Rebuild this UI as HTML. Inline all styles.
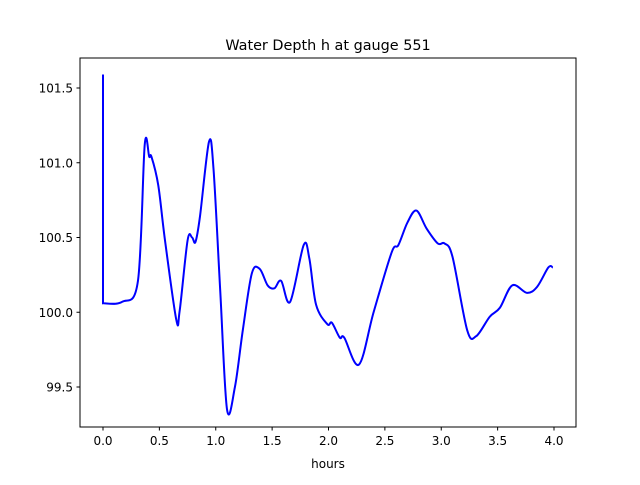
<!DOCTYPE html>
<html><head><meta charset="utf-8"><style>
body{margin:0;background:#fff;}
svg text{font-family:"DejaVu Sans","Liberation Sans",sans-serif;}
</style></head><body>
<svg id="chart" width="640" height="480" xmlns="http://www.w3.org/2000/svg">
<rect width="640" height="480" fill="#fff"/>
<text x="328" y="50" text-anchor="middle" font-size="14.4">Water Depth h at gauge 551</text>
<g id="xt"></g><g id="yt"></g>
<path id="line" fill="none" stroke="#0000ff" stroke-width="2"/>
<rect x="80" y="58" width="496" height="369" fill="none" stroke="#000" stroke-width="1"/>
<text x="328" y="468" text-anchor="middle" font-size="12">hours</text>
</svg>
<script>
const hours=[0,0,0.17,0.31,0.37,0.41,0.43,0.49,0.55,0.65,0.68,0.75,0.79,0.82,0.86,0.94,0.98,1.04,1.1,1.17,1.24,1.32,1.39,1.46,1.52,1.58,1.66,1.78,1.83,1.89,1.99,2.03,2.1,2.14,2.27,2.4,2.56,2.62,2.7,2.78,2.87,2.97,3.03,3.1,3.23,3.31,3.43,3.52,3.63,3.76,3.85,3.95,3.99];
const depth=[101.59,100.06,100.07,100.21,101.12,101.04,101.04,100.85,100.48,99.95,100.01,100.48,100.5,100.47,100.64,101.14,100.96,100.14,99.35,99.5,99.88,100.26,100.29,100.18,100.16,100.21,100.07,100.45,100.36,100.05,99.92,99.93,99.83,99.83,99.65,100.0,100.4,100.45,100.6,100.68,100.56,100.46,100.46,100.37,99.88,99.84,99.97,100.03,100.18,100.13,100.17,100.3,100.3];
const xTicks=[0,0.5,1,1.5,2,2.5,3,3.5,4];
const yTicks=[99.5,100,100.5,101,101.5];
const X=h=>103+h*112.75;
const Y=v=>88+(101.5-v)*149.5;
const NS="http://www.w3.org/2000/svg";
const xt=document.getElementById('xt'),yt=document.getElementById('yt');
xTicks.forEach(t=>{
 const l=document.createElementNS(NS,'line');
 l.setAttribute('x1',X(t));l.setAttribute('x2',X(t));l.setAttribute('y1',427);l.setAttribute('y2',430.5);l.setAttribute('stroke','#000');
 
 
 xt.appendChild(l);
 const s=document.createElementNS(NS,'text');
 s.setAttribute('x',X(t));s.setAttribute('y',445);s.setAttribute('text-anchor','middle');s.setAttribute('font-size','12');
 s.textContent=t.toFixed(1);
 
 
 xt.appendChild(s);
});
yTicks.forEach(t=>{
 const l=document.createElementNS(NS,'line');
 l.setAttribute('x1',76.5);l.setAttribute('x2',80);l.setAttribute('y1',Y(t));l.setAttribute('y2',Y(t));l.setAttribute('stroke','#000');
 
 
 yt.appendChild(l);
 const s=document.createElementNS(NS,'text');
 s.setAttribute('x',73);s.setAttribute('y',Y(t)+4.5);s.setAttribute('text-anchor','end');s.setAttribute('font-size','12');
 s.textContent=t.toFixed(1);
 
 
 yt.appendChild(s);
});
const P=hours.map((h,i)=>[X(h),Y(depth[i])]);
let d='M'+P[0][0]+','+P[0][1]+' L'+P[1][0]+','+P[1][1];
for(let i=1;i<P.length-1;i++){
 const p0=P[Math.max(1,i-1)],p1=P[i],p2=P[i+1],p3=P[Math.min(P.length-1,i+2)];
 const c1=[p1[0]+(p2[0]-p0[0])/6,p1[1]+(p2[1]-p0[1])/6];
 const c2=[p2[0]-(p3[0]-p1[0])/6,p2[1]-(p3[1]-p1[1])/6];
 d+=' C'+c1[0]+','+c1[1]+' '+c2[0]+','+c2[1]+' '+p2[0]+','+p2[1];
}
document.getElementById('line').setAttribute('d',d);
</script>
</body></html>
